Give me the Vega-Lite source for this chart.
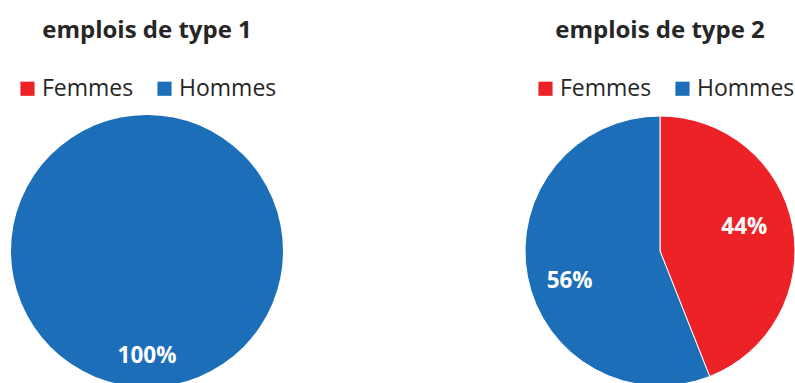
{
  "$schema": "https://vega.github.io/schema/vega-lite/v6.json",
  "background": "white",
  "padding": {"left": 0, "top": 19, "right": 0, "bottom": 0},
  "spacing": 229,
  "config": {
    "view": {"stroke": null},
    "font": "Open Sans",
    "title": {"font": "Open Sans", "fontSize": 24, "fontWeight": "bold", "color": "#262626", "anchor": "middle", "frame": "group", "offset": 34},
    "legend": {
      "orient": "none", "direction": "horizontal", "title": null,
      "symbolType": "square", "symbolSize": 200, "symbolStrokeWidth": 0,
      "labelFontSize": 23, "labelColor": "#262626", "labelFont": "Open Sans",
      "columnPadding": 19, "labelOffset": 3
    }
  },
  "resolve": {"scale": {"color": "independent", "theta": "independent"}, "legend": {"color": "independent"}},
  "hconcat": [
    {
      "width": 294, "height": 272,
      "title": "emplois de type 1",
      "data": {"values": [
        {"genre": "Femmes", "part": 0, "label": ""},
        {"genre": "Hommes", "part": 100, "label": "100%"}
      ]},
      "layer": [
        {
          "mark": {"type": "arc"},
          "encoding": {
            "theta": {"field": "part", "type": "quantitative", "stack": true},
            "color": {"field": "genre", "type": "nominal",
              "scale": {"domain": ["Femmes", "Hommes"], "range": ["#EC2227", "#1B6EB7"]},
              "legend": {"legendX": 16, "legendY": -38}}
          }
        },
        {
          "mark": {"type": "text", "radius": 105, "fontSize": 22.5, "fontWeight": "bold", "color": "white", "font": "Open Sans"},
          "encoding": {
            "theta": {"field": "part", "type": "quantitative", "stack": true},
            "text": {"field": "label"}
          }
        }
      ]
    },
    {
      "width": 270, "height": 272,
      "title": "emplois de type 2",
      "data": {"values": [
        {"genre": "Femmes", "part": 44, "label": "44%"},
        {"genre": "Hommes", "part": 56, "label": "56%"}
      ]},
      "layer": [
        {
          "mark": {"type": "arc", "stroke": "white", "strokeWidth": 1},
          "encoding": {
            "theta": {"field": "part", "type": "quantitative", "stack": true},
            "color": {"field": "genre", "type": "nominal",
              "scale": {"domain": ["Femmes", "Hommes"], "range": ["#EC2227", "#1B6EB7"]},
              "legend": {"legendX": 9, "legendY": -38}}
          }
        },
        {
          "mark": {"type": "text", "radius": 92, "dx": -6, "dy": -7, "fontSize": 22.5, "fontWeight": "bold", "color": "white", "font": "Open Sans"},
          "encoding": {
            "theta": {"field": "part", "type": "quantitative", "stack": true},
            "text": {"condition": {"test": "datum.genre === 'Femmes'", "field": "label"}, "value": ""}
          }
        },
        {
          "mark": {"type": "text", "radius": 92, "dy": 13, "fontSize": 22.5, "fontWeight": "bold", "color": "white", "font": "Open Sans"},
          "encoding": {
            "theta": {"field": "part", "type": "quantitative", "stack": true},
            "text": {"condition": {"test": "datum.genre === 'Hommes'", "field": "label"}, "value": ""}
          }
        }
      ]
    }
  ]
}
